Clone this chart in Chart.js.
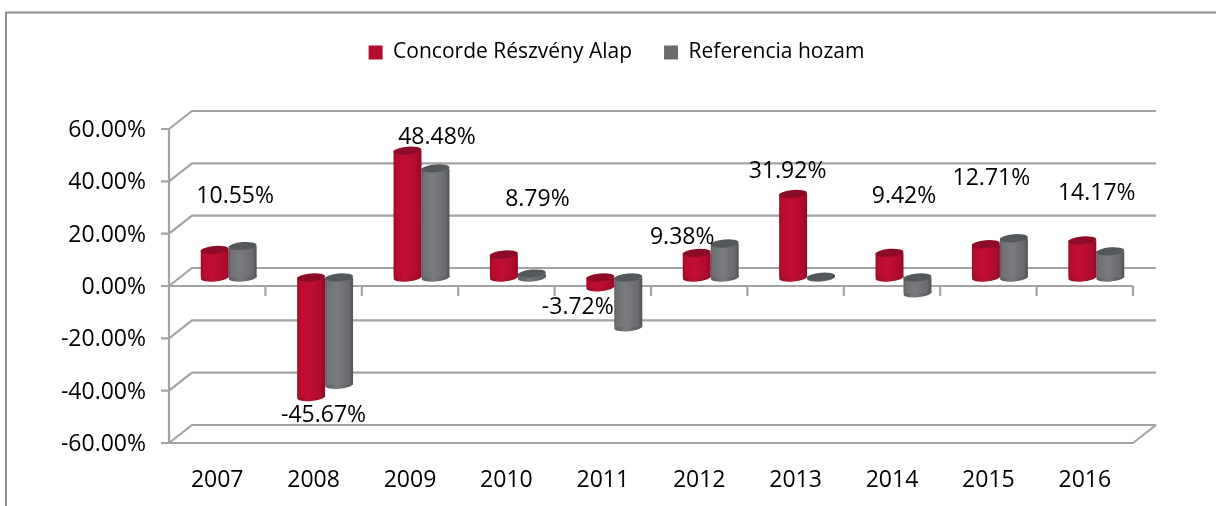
<!DOCTYPE html>
<html>
<head>
<meta charset="utf-8">
<style>html,body{margin:0;padding:0;background:#fff}canvas{display:block}</style>
<script src="https://cdn.jsdelivr.net/npm/chart.js@4"></script>
</head>
<body>
<canvas id="c" width="1216" height="506"></canvas>
<script>
const categories = ['2007','2008','2009','2010','2011','2012','2013','2014','2015','2016'];
const fundValues = [10.55,-45.67,48.48,8.79,-3.72,9.38,31.92,9.42,12.71,14.17];
const refValues = [12,-41,41.7,1.5,-19,13,0.3,-6,15,10];
const yTicks = [60,40,20,0,-20,-40,-60];
const labelOffsets = [[18,-62],[10,10],[27,-22],[31,-64],[-25,12],[-17,-24],[-8,-31],[12,-65],[3,-74],[12,-55]];

const FONT = '"Open Sans", sans-serif';
const DEPTH = {x:23, y:-18};
const BAR_SHIFT = {x:11.5, y:-8.5};
const LINE = '#a3a3a3';
const CAP = {ry:4, rot:-0.09};
const BAR_SHARE = 0.58;
const STYLE = [
  {stops:['#8f0b27','#b70c2e','#c20f33','#ad0c2b','#8f0b27'], cap:'#8d0b26'},
  {stops:['#595b5d','#707174','#7a7b7e','#6a6b6d','#4e5051'], cap:'#54585a'}
];

function bodyGradient(ctx, dsIndex){
  const x = ctx.chart.scales && ctx.chart.scales.x;
  const s = STYLE[dsIndex].stops;
  if(!x || ctx.dataIndex === undefined) return s[2];
  const step = x.width/categories.length;
  const w = step*BAR_SHARE/2;
  const left = x.getPixelForTick(ctx.dataIndex) + (dsIndex-1)*w;
  if(!isFinite(left)) return s[2];
  const g = ctx.chart.ctx.createLinearGradient(left,0,left+w,0);
  g.addColorStop(0,s[0]);g.addColorStop(.08,s[1]);g.addColorStop(.42,s[2]);g.addColorStop(.85,s[3]);g.addColorStop(1,s[4]);
  return g;
}

const scene = {
  id:'scene',
  afterLayout(chart){
    const l = chart.legend;
    if(l){l.left += 50; l.right += 50; l.top -= 56; l.bottom -= 56;}
  },
  beforeDraw(chart){
    const c = chart.ctx, y = chart.scales.y, a = chart.chartArea;
    c.save();
    c.strokeStyle='#8f8f8f'; c.lineWidth=2;
    c.beginPath(); c.moveTo(6,506); c.lineTo(6,12.5); c.lineTo(1216,12.5); c.stroke();
    c.strokeStyle=LINE; c.lineWidth=2.2;
    c.beginPath();
    yTicks.forEach(v=>{
      const py=y.getPixelForValue(v);
      c.moveTo(a.left,py); c.lineTo(a.left+DEPTH.x,py+DEPTH.y); c.lineTo(a.right+DEPTH.x,py+DEPTH.y);
    });
    const bot=y.getPixelForValue(-60), zero=y.getPixelForValue(0);
    c.moveTo(a.left,y.getPixelForValue(60)); c.lineTo(a.left,bot);
    c.moveTo(a.left,bot); c.lineTo(a.right,bot); c.lineTo(a.right+DEPTH.x,bot+DEPTH.y);
    c.moveTo(a.left-8,zero); c.lineTo(a.right,zero);
    yTicks.forEach(v=>{const py=y.getPixelForValue(v); c.moveTo(a.left-8,py); c.lineTo(a.left,py);});
    const step=(a.right-a.left)/categories.length;
    categories.forEach((_,i)=>{const px=a.left+step*i; c.moveTo(px,zero); c.lineTo(px,zero+10);});
    c.moveTo(a.right,zero); c.lineTo(a.right,zero+10);
    c.stroke();
    c.restore();
  },
  beforeDatasetDraw(chart,args){
    const c=chart.ctx;
    c.save();
    c.translate(BAR_SHIFT.x,BAR_SHIFT.y);
    const st=STYLE[args.index];
    chart.getDatasetMeta(args.index).data.forEach(el=>{
      const p=el.getProps(['x','y','base','width'],true);
      const g=c.createLinearGradient(p.x-p.width/2,0,p.x+p.width/2,0);
      g.addColorStop(0,st.stops[0]);g.addColorStop(.42,st.stops[2]);g.addColorStop(1,st.stops[4]);
      c.fillStyle=g;
      c.beginPath();
      c.ellipse(p.x,Math.max(p.y,p.base),p.width/2,CAP.ry,CAP.rot,0,Math.PI*2);
      c.fill();
    });
  },
  afterDatasetDraw(chart,args){
    const c=chart.ctx, st=STYLE[args.index];
    chart.getDatasetMeta(args.index).data.forEach(el=>{
      const p=el.getProps(['x','y','base','width'],true);
      c.fillStyle=st.cap;
      c.beginPath();
      c.ellipse(p.x,Math.min(p.y,p.base),p.width/2,CAP.ry,CAP.rot,0,Math.PI*2);
      c.fill();
    });
    c.restore();
  },
  afterDatasetsDraw(chart){
    const c=chart.ctx, x=chart.scales.x, y=chart.scales.y;
    c.save();
    c.fillStyle='#000'; c.font='23px '+FONT; c.textAlign='center'; c.textBaseline='middle';
    fundValues.forEach((v,i)=>{
      c.fillText(v.toFixed(2)+'%', x.getPixelForTick(i)+labelOffsets[i][0], y.getPixelForValue(v)+labelOffsets[i][1]);
    });
    c.restore();
  }
};

new Chart(document.getElementById('c'),{
  type:'bar',
  plugins:[scene],
  data:{
    labels:categories,
    datasets:[
      {label:'Concorde Részvény Alap',data:fundValues,backgroundColor:c=>bodyGradient(c,0),clip:false},
      {label:'Referencia hozam',data:refValues,backgroundColor:c=>bodyGradient(c,1),clip:false}
    ]
  },
  options:{
    responsive:false,
    animation:false,
    layout:{padding:{left:0,right:83,top:66,bottom:0}},
    datasets:{bar:{categoryPercentage:BAR_SHARE,barPercentage:1,borderWidth:0}},
    plugins:{
      legend:{
        position:'top',
        labels:{
          boxWidth:14,boxHeight:14,padding:32,color:'#000',
          font:{family:FONT,size:21},
          generateLabels(chart){
            return chart.data.datasets.map((d,i)=>({text:d.label,fillStyle:['#b20c2e','#6a6b6e'][i],strokeStyle:'transparent',lineWidth:0,datasetIndex:i}));
          }
        }
      },
      tooltip:{enabled:false}
    },
    scales:{
      x:{
        offset:true,
        grid:{display:false},
        border:{display:false},
        ticks:{color:'#000',padding:16,maxRotation:0,font:{family:FONT,size:23}},
        afterFit(s){s.height=63;}
      },
      y:{
        min:-60,max:60,
        afterBuildTicks(s){s.ticks=yTicks.map(v=>({value:v}));},
        grid:{display:false},
        border:{display:false},
        ticks:{color:'#000',padding:15,labelOffset:1.5,font:{family:FONT,size:23},callback:v=>v.toFixed(2)+'%'},
        afterFit(s){s.width=169;}
      }
    }
  }
});
</script>
</body>
</html>
